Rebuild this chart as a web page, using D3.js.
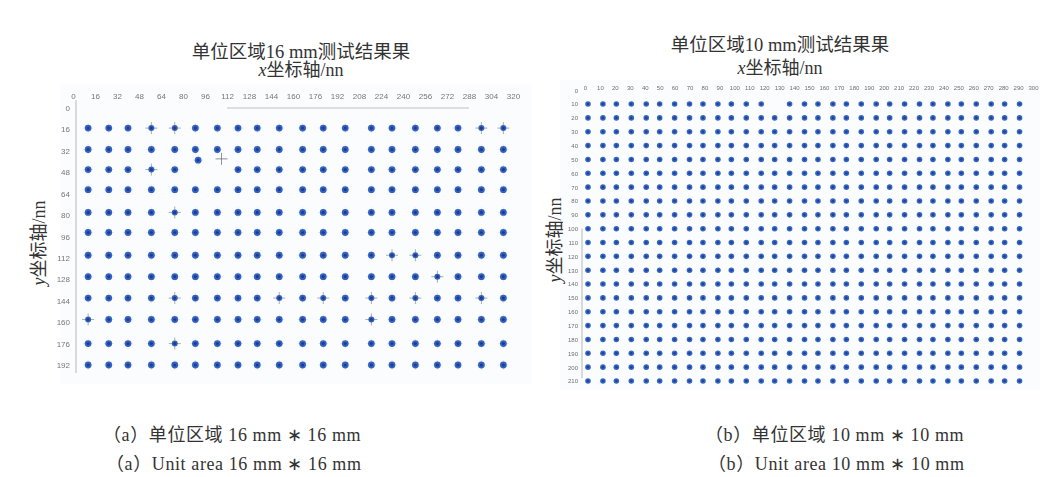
<!DOCTYPE html>
<html>
<head>
<meta charset="utf-8">
<script src="https://cdn.jsdelivr.net/npm/d3@7"></script>
<style>
  body { margin: 0; background: #fff; }
  svg { display: block; }
</style>
</head>
<body>
<div id="chart"></div>
<script>
// left panel: 16 mm grid
const leftXTicks = [0, 16, 32, 48, 64, 80, 96, 112, 128, 144, 160, 176, 192, 208, 224, 240, 256, 272, 288, 304, 320];
const leftYTicks = [0, 16, 32, 48, 64, 80, 96, 112, 128, 144, 160, 176, 192];
const leftCols = [11, 26, 40, 57, 74, 89, 105, 120, 134, 150, 167, 182, 198, 217, 232, 249, 265, 280, 297, 313];
const leftRows = [15, 31, 46, 61, 78, 93, 110, 126, 142, 158, 176, 192];
// [col, row, measured x, measured y] for points that landed off the grid
const leftMoved = [[5, 2, 91, 39]];
const leftMissing = [[6, 2]];
const leftCrossOnly = [[108, 38]];
// points that show a clear "+" marker
const leftPlus = [[3, 0], [4, 0], [18, 0], [19, 0], [3, 2], [4, 4], [14, 6], [15, 6], [16, 7], [4, 8], [9, 8], [11, 8], [13, 8], [15, 8], [18, 8], [0, 9], [4, 10], [13, 9]];

// right panel: 10 mm grid
const rightXTicks = [0, 10, 20, 30, 40, 50, 60, 70, 80, 90, 100, 110, 120, 130, 140, 150, 160, 170, 180, 190, 200, 210, 220, 230, 240, 250, 260, 270, 280, 290, 300];
const rightYTicks = [0, 10, 20, 30, 40, 50, 60, 70, 80, 90, 100, 110, 120, 130, 140, 150, 160, 170, 180, 190, 200, 210];
const rightCols = [2, 12, 21, 31, 41, 50, 60, 70, 79, 89, 98, 108, 118, 127, 137, 147, 156, 166, 175, 185, 195, 204, 214, 224, 233, 243, 252, 262, 272, 281, 291];
const rightRows = [10, 20, 30, 40, 50, 60, 70, 80, 90, 100, 110, 120, 130, 140, 150, 160, 170, 180, 190, 200, 210];
const rightMissing = [[13, 0]];

const width = 1057;
const height = 477;
const serif = '"Liberation Serif", "Noto Sans CJK SC", serif';

const svg = d3.select('#chart')
    .append('svg')
    .attr('width', width)
    .attr('height', height);

const defs = svg.append('defs');
defs.append('filter')
    .attr('id', 'scan')
    .attr('x', '-5%').attr('y', '-5%')
    .attr('width', '110%').attr('height', '110%')
    .append('feGaussianBlur')
    .attr('stdDeviation', 0.6);

function drawCross(g, cx, cy, size, color, op) {
    g.append('line')
        .attr('x1', cx - size).attr('x2', cx + size)
        .attr('y1', cy).attr('y2', cy)
        .attr('stroke', color).attr('stroke-width', 0.9).attr('opacity', op);
    g.append('line')
        .attr('x1', cx).attr('x2', cx)
        .attr('y1', cy - size).attr('y2', cy + size)
        .attr('stroke', color).attr('stroke-width', 0.9).attr('opacity', op);
}

function isIn(list, c, r) {
    return list.some(d => d[0] === c && d[1] === r);
}

// ---------- left panel ----------
const xL = d3.scaleLinear().domain([0, 320]).range([73, 513]);
const yL = d3.scaleLinear().domain([0, 192]).range([108, 365]);

const gL = svg.append('g').attr('filter', 'url(#scan)');

gL.append('rect')
    .attr('x', 60).attr('y', 84)
    .attr('width', 472).attr('height', 300)
    .attr('fill', '#fbfcfe');

gL.append('line')
    .attr('x1', 76).attr('x2', 76)
    .attr('y1', yL(-6)).attr('y2', yL(198))
    .attr('stroke', '#b8b8b8').attr('stroke-width', 1);

gL.append('line')
    .attr('x1', xL(112)).attr('x2', xL(288))
    .attr('y1', yL(0)).attr('y2', yL(0))
    .attr('stroke', '#b0b0b0').attr('stroke-width', 0.8);

const axXL = d3.axisTop(xL).tickValues(leftXTicks).tickSize(0).tickPadding(0);
gL.append('g')
    .attr('transform', 'translate(0,99)')
    .call(axXL)
    .call(g => g.select('.domain').remove())
    .selectAll('text')
    .attr('font-family', '"Liberation Sans", sans-serif')
    .attr('font-size', 8)
    .attr('fill', '#777');

const axYL = d3.axisLeft(yL).tickValues(leftYTicks).tickSize(0).tickPadding(6);
gL.append('g')
    .attr('transform', 'translate(76,0)')
    .call(axYL)
    .call(g => g.select('.domain').remove())
    .selectAll('text')
    .attr('font-family', '"Liberation Sans", sans-serif')
    .attr('font-size', 8)
    .attr('fill', '#777');

const marksL = gL.append('g');
leftRows.forEach((ry, r) => {
    leftCols.forEach((cx, c) => {
        if (isIn(leftMissing, c, r)) return;
        let px = xL(cx), py = yL(ry);
        const moved = leftMoved.find(d => d[0] === c && d[1] === r);
        if (moved) { px = xL(moved[2]); py = yL(moved[3]); }
        const plus = isIn(leftPlus, c, r);
        drawCross(marksL, px, py, plus ? 6 : 5, plus ? '#666' : '#a0a0a0', plus ? 0.6 : 0.25);
        marksL.append('circle')
            .attr('cx', px).attr('cy', py)
            .attr('r', plus ? 3 : 3.4)
            .attr('fill', '#3263c4');
        marksL.append('circle')
            .attr('cx', px).attr('cy', py)
            .attr('r', 1.6)
            .attr('fill', '#1a2d6e')
            .attr('opacity', 0.7);
    });
});
leftCrossOnly.forEach(d => drawCross(marksL, xL(d[0]), yL(d[1]), 6, '#555', 0.7));

// ---------- right panel ----------
const xR = d3.scaleLinear().domain([0, 300]).range([585, 1033]);
const yR = d3.scaleLinear().domain([0, 210]).range([90.2, 381]);

const gR = svg.append('g').attr('filter', 'url(#scan)');

gR.append('rect')
    .attr('x', 560).attr('y', 80)
    .attr('width', 480).attr('height', 310)
    .attr('fill', '#fbfcfe');

gR.append('line')
    .attr('x1', 582).attr('x2', 582)
    .attr('y1', yR(100)).attr('y2', yR(208))
    .attr('stroke', '#b8b8b8').attr('stroke-width', 1);

const axXR = d3.axisTop(xR).tickValues(rightXTicks).tickSize(0).tickPadding(0);
gR.append('g')
    .attr('transform', 'translate(0,90)')
    .call(axXR)
    .call(g => g.select('.domain').remove())
    .selectAll('text')
    .attr('font-family', '"Liberation Sans", sans-serif')
    .attr('font-size', 6)
    .attr('fill', '#6e6e6e');

const axYR = d3.axisLeft(yR).tickValues(rightYTicks).tickSize(0).tickPadding(4);
gR.append('g')
    .attr('transform', 'translate(582,0)')
    .call(axYR)
    .call(g => g.select('.domain').remove())
    .selectAll('text')
    .attr('font-family', '"Liberation Sans", sans-serif')
    .attr('font-size', 6)
    .attr('fill', '#6e6e6e');

const marksR = gR.append('g');
rightRows.forEach((ry, r) => {
    rightCols.forEach((cx, c) => {
        if (isIn(rightMissing, c, r)) return;
        const px = xR(cx), py = yR(ry);
        marksR.append('circle')
            .attr('cx', px).attr('cy', py)
            .attr('r', 2.8)
            .attr('fill', '#3668c6');
        marksR.append('circle')
            .attr('cx', px).attr('cy', py)
            .attr('r', 1.3)
            .attr('fill', '#1a2d6e')
            .attr('opacity', 0.65);
    });
});

// ---------- titles and labels ----------
function title(x, y1, y2, text) {
    svg.append('text')
        .attr('x', x).attr('y', y1)
        .attr('text-anchor', 'middle')
        .attr('font-family', serif)
        .attr('font-size', 18.5)
        .attr('fill', '#333')
        .text(text);
    const t = svg.append('text')
        .attr('x', x).attr('y', y2)
        .attr('text-anchor', 'middle')
        .attr('font-family', serif)
        .attr('font-size', 18)
        .attr('fill', '#333');
    t.append('tspan').attr('font-style', 'italic').text('x');
    t.append('tspan').text('坐标轴/nn');
}
title(301, 58, 76, '单位区域16 mm测试结果果');
title(780, 51, 74, '单位区域10 mm测试结果果');

function yLabel(x, y) {
    const t = svg.append('text')
        .attr('transform', 'translate(' + x + ',' + y + ') rotate(-90)')
        .attr('text-anchor', 'middle')
        .attr('font-family', serif)
        .attr('font-size', 18)
        .attr('fill', '#333');
    t.append('tspan').attr('font-style', 'italic').text('y');
    t.append('tspan').text('坐标轴/nn');
}
yLabel(45, 243);
yLabel(561, 240);

function caption(x, y, text) {
    svg.append('text')
        .attr('x', x).attr('y', y)
        .attr('font-family', serif)
        .attr('font-size', 18)
        .attr('letter-spacing', 0.6)
        .attr('fill', '#333')
        .text(text);
}
caption(103, 441, '（a）单位区域 16 mm ∗ 16 mm');
caption(106, 470, '（a）Unit area 16 mm ∗ 16 mm');
caption(705, 441, '（b）单位区域 10 mm ∗ 10 mm');
caption(708, 470, '（b）Unit area 10 mm ∗ 10 mm');
</script>
</body>
</html>
